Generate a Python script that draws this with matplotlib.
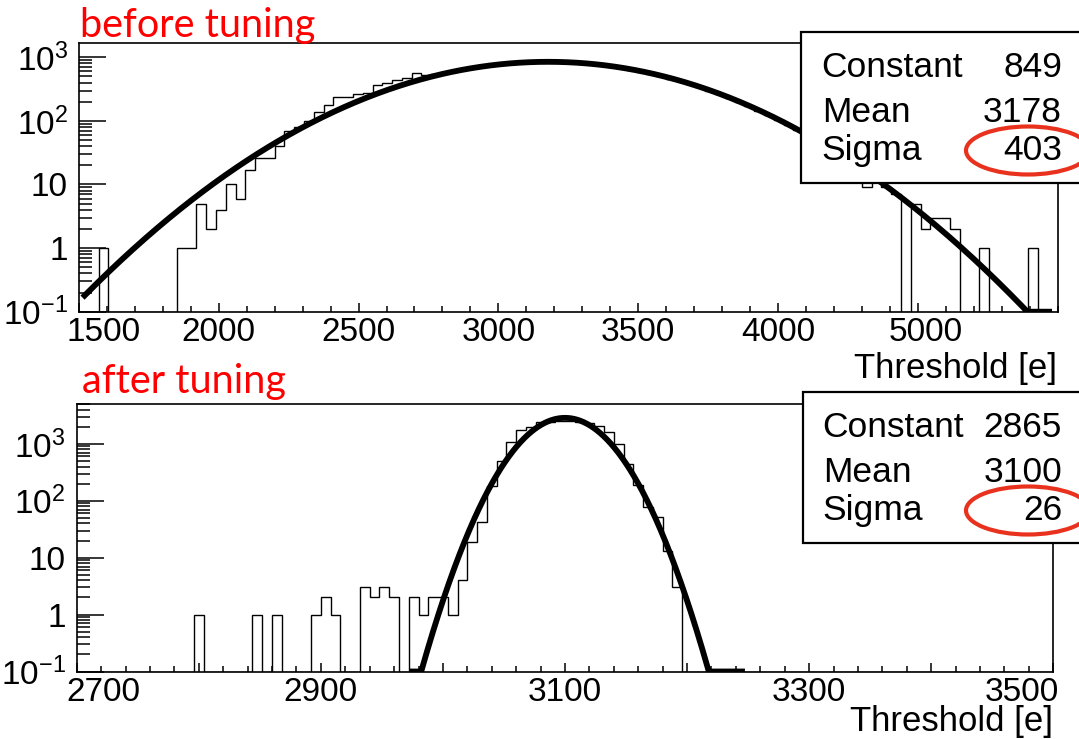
import numpy as np
import matplotlib
matplotlib.use('Agg')
import matplotlib.pyplot as plt
from matplotlib.patches import Rectangle, Ellipse
from matplotlib.ticker import MultipleLocator, LogLocator, NullFormatter
from matplotlib.transforms import ScaledTranslation

plt.rcParams['font.family'] = ['Liberation Sans', 'DejaVu Sans']
plt.rcParams['mathtext.fontset'] = 'custom'
plt.rcParams['mathtext.rm'] = 'Liberation Sans'
plt.rcParams['mathtext.it'] = 'Liberation Sans:italic'
plt.rcParams['mathtext.bf'] = 'Liberation Sans:bold'

W, H = 1079, 739

# ---- before tuning: 100 bins from 1500 to 5000 ----
before_range = [1500, 5000]
before_counts = [
    0, 0, 1, 0, 0, 0, 0, 0, 0, 0,
    1, 1, 5, 2, 4, 10, 6, 17, 26, 26,
    41, 70, 80, 98, 139, 178, 240, 240, 262, 275,
    366, 400, 437, 468, 562, 525, 550, 585, 622, 660,
    700, 735, 768, 795, 815, 832, 845, 850, 848, 840,
    826, 806, 782, 752, 718, 680, 640, 598, 554, 508,
    463, 419, 376, 336, 298, 262, 229, 198, 170, 145,
    122, 103, 86, 71, 58, 47, 38, 31, 24, 19,
    9, 12, 9, 7, 0, 5, 2, 3, 3, 2,
    0, 0, 1, 0, 0, 0, 0, 1, 0, 0,
]
before_fit = [849, 3178, 403]          # Constant, Mean, Sigma
before_fit_range = [1520, 4970]
before_xticks = [1500, 2000, 2500, 3000, 3500, 4000, 4500]
before_xlabels = ['1500', '2000', '2500', '3000', '3500', '4000', '5000']

# ---- after tuning: 100 bins from 2700 to 3500 ----
after_range = [2700, 3500]
after_counts = [
    0, 0, 0, 0, 0, 0, 0, 0, 0, 0,
    0, 0, 1, 0, 0, 0, 0, 0, 1, 0,
    1, 0, 0, 0, 1, 2, 1, 0, 0, 3,
    2, 3, 2, 0, 2, 1, 2, 2, 1, 4,
    19, 42, 181, 509, 1073, 1720, 1963, 2400, 2450, 2550,
    2560, 2450, 2300, 2100, 1600, 998, 446, 186, 77, 51,
    13, 3, 0, 0, 0, 0, 0, 0, 0, 0,
    0, 0, 0, 0, 0, 0, 0, 0, 0, 0,
    0, 0, 0, 0, 0, 0, 0, 0, 0, 0,
    0, 0, 0, 0, 0, 0, 0, 0, 0, 0,
]
after_fit = [2865, 3100, 26]
after_fit_range = [2975, 3245]
after_xticks = [2700, 2800, 2900, 3000, 3100, 3200, 3300, 3400, 3500]
after_xlabels = ['2700', '', '2900', '', '3100', '', '3300', '', '3500']

stat_names = ['Constant', 'Mean', 'Sigma']
ytick_vals = [0.1, 1, 10, 100, 1000]
ytick_labels = [r'$10^{-1}$', '1', '10', r'$10^{2}$', r'$10^{3}$']


def px(x, y):
    return x / W, 1 - y / H


fig = plt.figure(figsize=(W / 100, H / 100), dpi=100)


def panel(left, top, right, bottom, counts, xr, fit, frange, ymax,
          xticks, xlabels, xminor, shift_first, shift_last, lpad):
    ax = fig.add_axes([left / W, 1 - bottom / H, (right - left) / W, (bottom - top) / H])
    ymin = 0.1
    counts = np.array(counts, dtype=float)
    edges = np.linspace(xr[0], xr[1], len(counts) + 1)
    ax.stairs(np.where(counts > 0, counts, ymin), edges, color='black', lw=1.0,
              baseline=None, zorder=2)
    amp, mu, sig = fit
    xs = np.linspace(frange[0], frange[1], 800)
    ys = amp * np.exp(-0.5 * ((xs - mu) / sig) ** 2)
    ax.plot(xs, np.clip(ys, ymin, None), color='black', lw=4.2, zorder=3)

    ax.set_yscale('log')
    ax.set_xlim(xr)
    ax.set_ylim(ymin, ymax)
    ax.set_yticks(ytick_vals, ytick_labels)
    ax.yaxis.set_minor_locator(LogLocator(base=10, subs=np.arange(2, 10)))
    ax.yaxis.set_minor_formatter(NullFormatter())
    ax.set_xticks(xticks, xlabels)
    ax.xaxis.set_minor_locator(MultipleLocator(xminor))
    ax.tick_params(axis='both', which='both', direction='in', top=False, right=False,
                   width=1.1, labelsize=24)
    ax.tick_params(axis='y', which='major', length=19.5, pad=8)
    ax.tick_params(axis='y', which='minor', length=9.5)
    ax.tick_params(axis='x', which='major', length=6.5, pad=4)
    ax.tick_params(axis='x', which='minor', length=4)
    for s in ax.spines.values():
        s.set_linewidth(1.2)
    labs = ax.get_xticklabels()
    labs[0].set_transform(labs[0].get_transform() + ScaledTranslation(shift_first / 100, 0, fig.dpi_scale_trans))
    labs[-1].set_transform(labs[-1].get_transform() + ScaledTranslation(shift_last / 100, 0, fig.dpi_scale_trans))
    ax.set_xlabel('Threshold [e]', loc='right', fontsize=25, labelpad=lpad)
    return ax


ax1 = panel(79, 43.3, 1057.5, 311.7, before_counts, before_range, before_fit,
            before_fit_range, 1660, before_xticks, before_xlabels, 100, 25, 8, 3)
ax2 = panel(76.7, 404, 1053.3, 671.5, after_counts, after_range, after_fit,
            after_fit_range, 5020, after_xticks, after_xlabels, 20, 27, -31, -2)


def stats_box(x0, y0, y1, vals, baselines, name_x, val_x, ell_cy):
    fig.add_artist(Rectangle(px(x0, y1), (1100 - x0) / W, (y1 - y0) / H,
                             transform=fig.transFigure, fc='white', ec='black',
                             lw=1.6, zorder=5))
    for name, v, b in zip(stat_names, vals, baselines):
        fig.text(*px(name_x, b), name, fontsize=25.5, va='baseline', ha='left', zorder=6)
        fig.text(*px(val_x, b), str(v), fontsize=25.5, va='baseline', ha='right', zorder=6)
    fig.add_artist(Ellipse(px(1028, ell_cy), 124 / W, 48 / H, transform=fig.transFigure,
                           fill=False, ec='#e8321e', lw=3, zorder=7))


stats_box(800.7, 31.7, 182.5, before_fit, [76.7, 121.7, 160], 821.7, 1062, 150.5)
stats_box(802.7, 391.7, 542.7, after_fit, [437.3, 481.7, 520], 822.7, 1062, 510.5)

fig.text(*px(80, 36.7), 'before tuning', color='red', fontsize=28.5, family='Lato', va='baseline')
fig.text(*px(82, 393), 'after tuning', color='red', fontsize=28.5, family='Lato', va='baseline')

fig.savefig('out.png', dpi=100)
